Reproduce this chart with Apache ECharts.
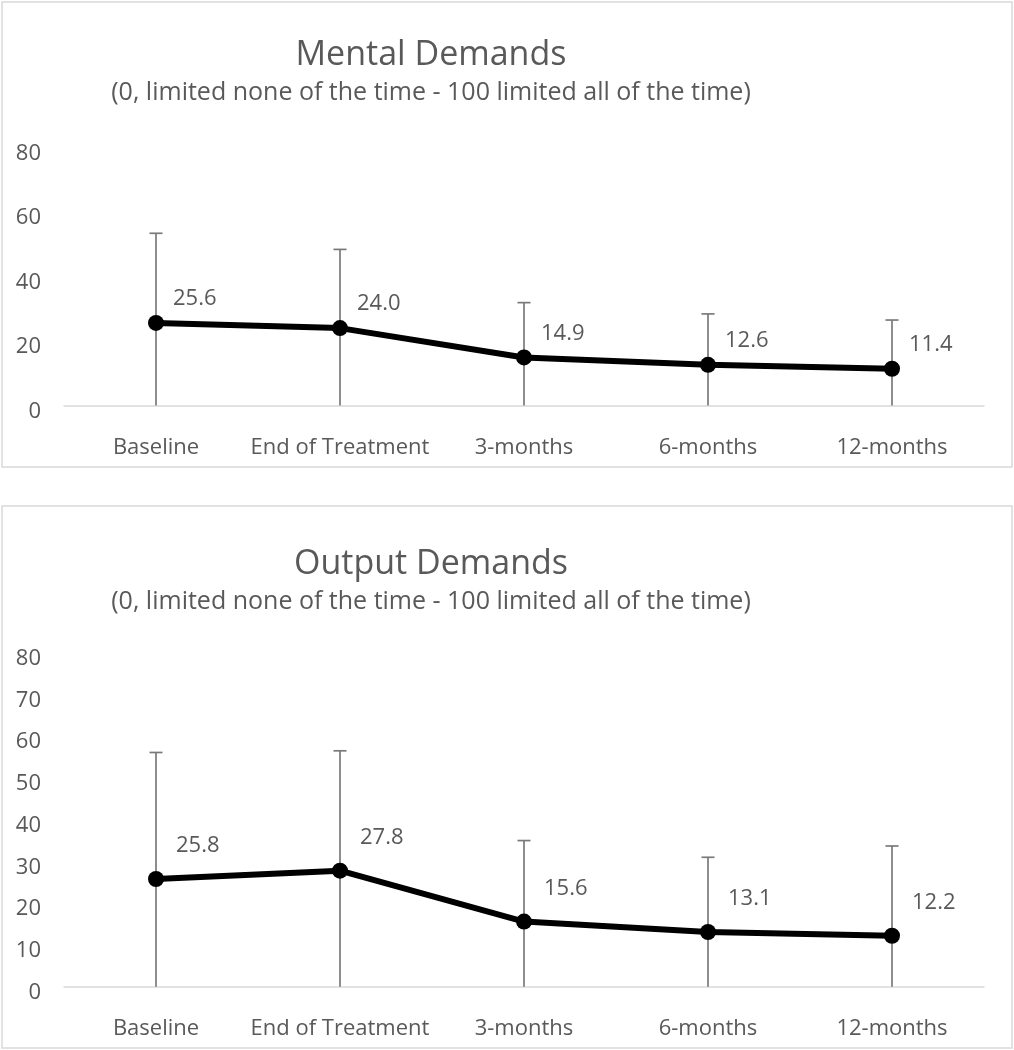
<!DOCTYPE html>
<html>
<head>
<meta charset="utf-8">
<script src="https://cdn.jsdelivr.net/npm/echarts@6/dist/echarts.min.js"></script>
<style>
html,body{margin:0;padding:0;background:#fff;}
#chart{width:1014px;height:1050px;}
</style>
</head>
<body>
<div id="chart"></div>
<script>
// ---- data ----
const categories = ['Baseline', 'End of Treatment', '3-months', '6-months', '12-months'];
const mentalMean = [25.6, 24.0, 14.9, 12.6, 11.4];
const mentalSD   = [27.8, 24.4, 17.0, 15.8, 15.1];
const outputMean = [25.8, 27.8, 15.6, 13.1, 12.2];
const outputSD   = [30.3, 28.7, 19.4, 17.9, 21.5];
const titles = ['Mental Demands', 'Output Demands'];
const subtitle = '(0, limited none of the time - 100 limited all of the time)';

const FONT = "'Open Sans', 'Noto Sans', sans-serif";
const TXT = '#595959';

const chart = echarts.init(document.getElementById('chart'), null, {renderer: 'canvas'});

function errBarSeries(gi, means, sds) {
  const data = means.map((m, i) => [i, m, sds[i]]);
  return {
    type: 'custom',
    xAxisIndex: gi, yAxisIndex: gi,
    z: 1,
    silent: true,
    data: data,
    renderItem: function (params, api) {
      const i = api.value(0), m = api.value(1), s = api.value(2);
      const hiV = m + s;
      const loV = Math.max(0, m - s);
      const hi = api.coord([i, hiV]);
      const lo = api.coord([i, loV]);
      const cw = 6.5;
      const st = {stroke: '#7a7a7a', lineWidth: 1.7};
      const children = [
        {type: 'line', shape: {x1: hi[0], y1: hi[1], x2: lo[0], y2: lo[1]}, style: st},
        {type: 'line', shape: {x1: hi[0] - cw, y1: hi[1], x2: hi[0] + cw, y2: hi[1]}, style: st}
      ];
      if (m - s > 0) {
        children.push({type: 'line', shape: {x1: lo[0] - cw, y1: lo[1], x2: lo[0] + cw, y2: lo[1]}, style: st});
      }
      return {type: 'group', children: children};
    }
  };
}

function lineSeries(gi, means, off) {
  return {
    type: 'line',
    xAxisIndex: gi, yAxisIndex: gi,
    z: 3,
    data: means,
    symbol: 'circle',
    symbolSize: 16,
    lineStyle: {color: '#000', width: 6},
    itemStyle: {color: '#000'},
    label: {
      show: true,
      position: 'right',
      distance: 0,
      offset: off,
      color: TXT,
      fontFamily: FONT,
      fontSize: 22,
      formatter: p => Number(p.value).toFixed(1)
    },
    animation: false
  };
}

const grids = [
  {left: 64, width: 920, top: 147.5, height: 258},
  {left: 64, width: 920, top: 652.7, height: 334}
];

const xAxes = grids.map((g, gi) => ({
  type: 'category',
  gridIndex: gi,
  data: categories,
  boundaryGap: true,
  axisLine: {show: true, lineStyle: {color: '#d9d9d9', width: 1.5}},
  axisTick: {show: false},
  axisLabel: {color: TXT, fontFamily: FONT, fontSize: 22, margin: 31, interval: 0},
  splitLine: {show: false}
}));

const yAxes = [
  {type: 'value', gridIndex: 0, min: 0, max: 80, interval: 20},
  {type: 'value', gridIndex: 1, min: 0, max: 80, interval: 10}
].map(a => Object.assign(a, {
  axisLine: {show: false},
  axisTick: {show: false},
  splitLine: {show: false},
  axisLabel: {color: TXT, fontFamily: FONT, fontSize: 22, margin: 23, verticalAlign: 'top', lineHeight: 12}
}));

const panelTops = [0, 509];
const graphic = [];
graphic.push({type: 'rect', shape: {x: 2, y: 2, width: 1010, height: 465}, style: {fill: 'none', stroke: '#d9d9d9', lineWidth: 1.5}, z: -1});
graphic.push({type: 'rect', shape: {x: 2, y: 506, width: 1010, height: 542}, style: {fill: 'none', stroke: '#d9d9d9', lineWidth: 1.5}, z: -1});
titles.forEach((t, i) => {
  const dy = panelTops[i];
  graphic.push({type: 'text', x: 431, y: 55 + dy, style: {text: t, fill: TXT, font: '34px ' + FONT, align: 'center', verticalAlign: 'middle'}});
  graphic.push({type: 'text', x: 431, y: 93 + dy, style: {text: subtitle, fill: TXT, font: '25px ' + FONT, align: 'center', verticalAlign: 'middle'}});
});

chart.setOption({
  animation: false,
  backgroundColor: '#fff',
  grid: grids,
  xAxis: xAxes,
  yAxis: yAxes,
  graphic: graphic,
  series: [
    errBarSeries(0, mentalMean, mentalSD),
    lineSeries(0, mentalMean, [9, -24]),
    errBarSeries(1, outputMean, outputSD),
    lineSeries(1, outputMean, [12, -33])
  ]
});
</script>
</body>
</html>
